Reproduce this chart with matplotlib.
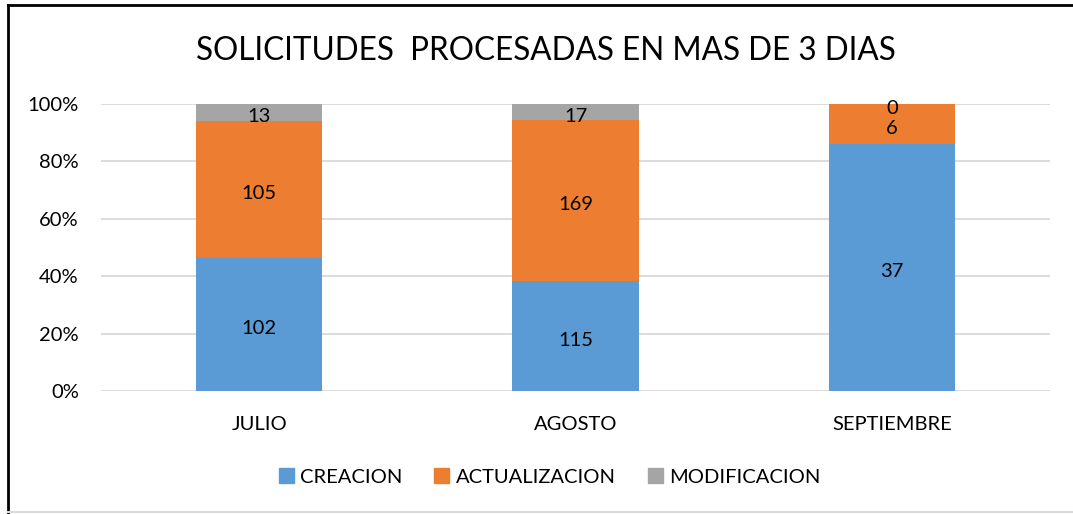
import matplotlib
matplotlib.use("Agg")
import matplotlib.pyplot as plt
from matplotlib.lines import Line2D
import numpy as np

plt.rcParams['font.family'] = ['Lato', 'DejaVu Sans']

months = ["JULIO", "AGOSTO", "SEPTIEMBRE"]
series_names = ["CREACION", "ACTUALIZACION", "MODIFICACION"]
creacion = [102, 115, 37]
actualizacion = [105, 169, 6]
modificacion = [13, 17, 0]
colors = ["#5B9BD5", "#ED7D31", "#A5A5A5"]
title = "SOLICITUDES  PROCESADAS EN MAS DE 3 DIAS"

data = np.array([creacion, actualizacion, modificacion], dtype=float)
totals = data.sum(axis=0)
pct = data / totals * 100

fig = plt.figure(figsize=(10.73, 5.14), dpi=100)
ax = fig.add_axes([101/1073, 1 - 391/514, (1050-101)/1073, (391-104)/514])

x = np.arange(len(months))
bottom = np.zeros(len(months))
for i, name in enumerate(series_names):
    ax.bar(x, pct[i], 0.4, bottom=bottom, color=colors[i], label=name, zorder=2)
    for j in range(len(months)):
        yc = bottom[j] + pct[i][j] / 2
        ax.annotate(f"{int(data[i][j])}", (x[j], yc), xytext=(0, -3),
                    textcoords="offset points", ha="center", va="center",
                    fontsize=14.5, color="black", zorder=3)
    bottom += pct[i]

ax.set_xlim(-0.5, 2.5)
ax.set_ylim(0, 100)
ax.set_yticks(np.arange(0, 101, 20))
ax.set_yticklabels([f"{v}%" for v in range(0, 101, 20)])
ax.set_xticks(x)
ax.set_xticklabels(months)
ax.tick_params(axis="both", length=0, labelsize=14.5, colors="black")
ax.tick_params(axis="y", pad=16)
ax.tick_params(axis="x", pad=18)
ax.yaxis.grid(True, color="#D9D9D9", linewidth=1.3, zorder=0)
ax.set_axisbelow(True)
for s in ax.spines.values():
    s.set_visible(False)

fig.text(0.5085, 1 - 51/514, title, ha="center", va="center", fontsize=22.7)

handles = [plt.Rectangle((0, 0), 1, 1, color=c) for c in colors]
fig.legend(handles, series_names, loc="center", bbox_to_anchor=(0.512, 1 - 477/514),
           ncol=3, frameon=False, fontsize=14.5, handlelength=0.75, handleheight=0.75,
           handletextpad=0.3, columnspacing=1.6)

# outer border
fig.add_artist(Line2D([8/1073, 8/1073], [0, 1 - 5/514], color="black", lw=2, transform=fig.transFigure))
fig.add_artist(Line2D([8/1073, 1], [1 - 5/514, 1 - 5/514], color="black", lw=2, transform=fig.transFigure))
fig.add_artist(Line2D([8/1073, 1], [1 - 512/514, 1 - 512/514], color="#D9D9D9", lw=1.5, transform=fig.transFigure))

fig.savefig("out.png", dpi=100)
